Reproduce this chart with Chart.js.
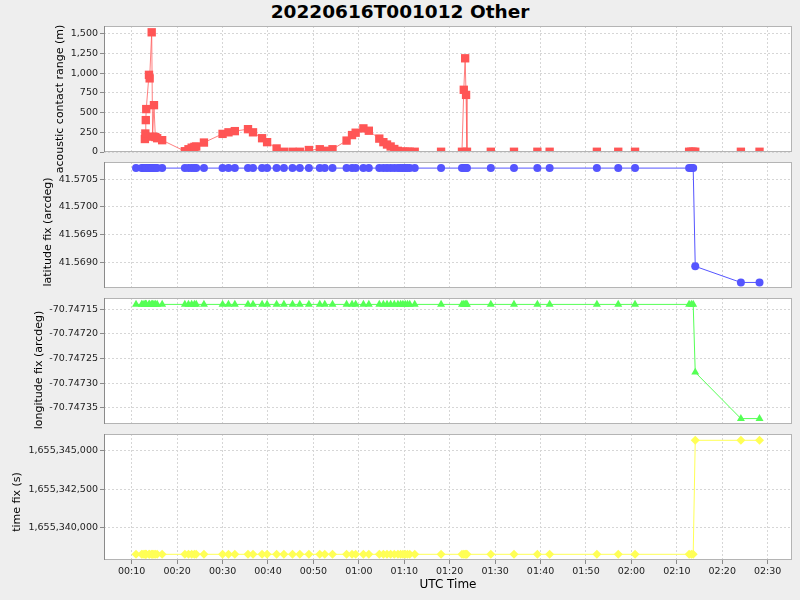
<!DOCTYPE html>
<html lang="en">
<head>
<meta charset="UTF-8">
<title>20220616T001012 Other</title>
<script src="https://cdn.jsdelivr.net/npm/chart.js"></script>
<style>
    body {
        margin: 0;
        background-color: #eeeeee;
        font-family: 'DejaVu Sans', sans-serif;
    }

    #wrap {
        position: relative;
        width: 800px;
        height: 600px;
        overflow: hidden;
    }

    #wrap canvas {
        position: absolute;
        left: 0;
        top: 0;
    }

    h1 {
        position: absolute;
        top: 0;
        left: 0;
        width: 800px;
        margin: 0;
        text-align: center;
        font-size: 18.5px;
        line-height: 24px;
        font-weight: bold;
        color: #000;
    }
</style>
</head>
<body>
<div id="wrap">
    <h1>20220616T001012 Other</h1>
    <canvas id="range" width="800" height="600"></canvas>
    <canvas id="lat" width="800" height="600"></canvas>
    <canvas id="lon" width="800" height="600"></canvas>
    <canvas id="fix" width="800" height="600"></canvas>
</div>

<script>
// sample times (UTC, hh:mm:ss)
const utcTimes = [
    '00:10:57', '00:12:12', '00:12:30', '00:12:54', '00:13:00', '00:13:06', '00:13:12', '00:13:48', '00:13:57', '00:14:24',
    '00:14:36', '00:14:54', '00:15:12', '00:15:36', '00:16:42',
    '00:21:42', '00:22:30', '00:23:12', '00:23:48', '00:24:12', '00:25:54',
    '00:30:00', '00:31:18', '00:32:42', '00:35:36', '00:36:42', '00:38:42', '00:39:48', '00:41:54', '00:43:30', '00:45:24',
    '00:47:00', '00:49:00', '00:51:24', '00:52:30', '00:54:12', '00:57:18', '00:58:30', '00:59:18', '01:01:00', '01:02:12',
    '01:04:30', '01:05:24', '01:06:12', '01:07:00', '01:07:48', '01:08:36', '01:09:12', '01:09:42', '01:10:12', '01:10:42',
    '01:11:12', '01:12:18',
    '01:18:06', '01:22:42', '01:23:06', '01:23:24', '01:23:36', '01:23:48', '01:29:03', '01:34:09', '01:39:18', '01:42:00',
    '01:52:24', '01:57:06', '02:00:48', '02:12:42', '02:13:12', '02:13:36', '02:14:03', '02:24:06', '02:28:12'
];

// acoustic contact range (m)
const rangeM = [
    null, null, null, 165, 235, 405, 545, 980, 935, 1520,
    195, 595, 190, 175, 150,
    10, 35, 55, 65, 70, 120,
    230, 250, 265, 290, 250, 175, 125, 45, 3, 3,
    3, 25, 35, 15, 35, 145, 215, 245, 300, 270,
    170, 125, 95, 70, 38, 15, 3, 3, 3, 3,
    3, 3,
    3, 3, 790, 1190, 725, 3, 3, 3, 3, 3,
    3, 3, 3, 3, 3, 3, 3, 3, 3
];

// latitude fix (arcdeg)
const latFix = [
    41.5707, 41.5707, 41.5707, 41.5707, 41.5707, 41.5707, 41.5707, 41.5707, 41.5707, 41.5707,
    41.5707, 41.5707, 41.5707, 41.5707, 41.5707,
    41.5707, 41.5707, 41.5707, 41.5707, 41.5707, 41.5707,
    41.5707, 41.5707, 41.5707, 41.5707, 41.5707, 41.5707, 41.5707, 41.5707, 41.5707, 41.5707,
    41.5707, 41.5707, 41.5707, 41.5707, 41.5707, 41.5707, 41.5707, 41.5707, 41.5707, 41.5707,
    41.5707, 41.5707, 41.5707, 41.5707, 41.5707, 41.5707, 41.5707, 41.5707, 41.5707, 41.5707,
    41.5707, 41.5707,
    41.5707, 41.5707, 41.5707, 41.5707, 41.5707, 41.5707, 41.5707, 41.5707, 41.5707, 41.5707,
    41.5707, 41.5707, 41.5707, 41.5707, 41.5707, 41.5707, 41.56893, 41.56864, 41.56864
];

// longitude fix (arcdeg)
const lonFix = [
    -70.74714, -70.74714, -70.74714, -70.74714, -70.74714, -70.74714, -70.74714, -70.74714, -70.74714, -70.74714,
    -70.74714, -70.74714, -70.74714, -70.74714, -70.74714,
    -70.74714, -70.74714, -70.74714, -70.74714, -70.74714, -70.74714,
    -70.74714, -70.74714, -70.74714, -70.74714, -70.74714, -70.74714, -70.74714, -70.74714, -70.74714, -70.74714,
    -70.74714, -70.74714, -70.74714, -70.74714, -70.74714, -70.74714, -70.74714, -70.74714, -70.74714, -70.74714,
    -70.74714, -70.74714, -70.74714, -70.74714, -70.74714, -70.74714, -70.74714, -70.74714, -70.74714, -70.74714,
    -70.74714, -70.74714,
    -70.74714, -70.74714, -70.74714, -70.74714, -70.74714, -70.74714, -70.74714, -70.74714, -70.74714, -70.74714,
    -70.74714, -70.74714, -70.74714, -70.74714, -70.74714, -70.74714, -70.747278, -70.747372, -70.747372
];

// time fix (s, unix)
const timeFix = [
    1655338273, 1655338273, 1655338273, 1655338273, 1655338273, 1655338273, 1655338273, 1655338273, 1655338273, 1655338273,
    1655338273, 1655338273, 1655338273, 1655338273, 1655338273,
    1655338273, 1655338273, 1655338273, 1655338273, 1655338273, 1655338273,
    1655338273, 1655338273, 1655338273, 1655338273, 1655338273, 1655338273, 1655338273, 1655338273, 1655338273, 1655338273,
    1655338273, 1655338273, 1655338273, 1655338273, 1655338273, 1655338273, 1655338273, 1655338273, 1655338273, 1655338273,
    1655338273, 1655338273, 1655338273, 1655338273, 1655338273, 1655338273, 1655338273, 1655338273, 1655338273, 1655338273,
    1655338273, 1655338273,
    1655338273, 1655338273, 1655338273, 1655338273, 1655338273, 1655338273, 1655338273, 1655338273, 1655338273, 1655338273,
    1655338273, 1655338273, 1655338273, 1655338273, 1655338273, 1655338273, 1655345675, 1655345675, 1655345675
];

// axis ticks
const xTicks = [10, 20, 30, 40, 50, 60, 70, 80, 90, 100, 110, 120, 130, 140, 150];   // minutes after 00:00
const rangeTicks = [0, 250, 500, 750, 1000, 1250, 1500];
const latTicks = [41.5690, 41.5695, 41.5700, 41.5705];
const lonTicks = [-70.74735, -70.74730, -70.74725, -70.74720, -70.74715];
const fixTicks = [1655340000, 1655342500, 1655345000];

const X_MIN = 3.9, X_MAX = 155.35;
const FONT = "'DejaVu Sans', sans-serif";

function toMinutes(s) {
    const p = s.split(':').map(Number);
    return p[0] * 60 + p[1] + p[2] / 60;
}

function hhmm(v) {
    const h = Math.floor(v / 60), m = Math.round(v % 60);
    return String(h).padStart(2, '0') + ':' + String(m).padStart(2, '0');
}

const xs = utcTimes.map(toMinutes);

// white plot background, grey frame and the y-axis label (drawn unsqueezed)
const framePlugin = {
    id: 'frame',
    beforeDraw(chart) {
        const a = chart.chartArea, ctx = chart.ctx;
        ctx.save();
        ctx.fillStyle = '#ffffff';
        ctx.fillRect(a.left, a.top, a.right - a.left, a.bottom - a.top);
        ctx.restore();
    },
    afterDraw(chart, args, opts) {
        const a = chart.chartArea, ctx = chart.ctx;
        ctx.save();
        ctx.lineWidth = 1;
        ctx.strokeStyle = '#b4b4b4';
        ctx.strokeRect(a.left + 0.5, a.top + 0.5, a.right - a.left - 1, a.bottom - a.top - 1);
        ctx.strokeStyle = '#8a8a8a';
        ctx.beginPath();
        ctx.moveTo(a.left + 0.5, a.top);
        ctx.lineTo(a.left + 0.5, a.bottom);
        ctx.stroke();
        ctx.translate(opts.titleX, opts.titleY);
        ctx.rotate(-Math.PI / 2);
        ctx.font = '11px ' + FONT;
        ctx.fillStyle = '#000';
        ctx.textAlign = 'center';
        ctx.textBaseline = 'middle';
        ctx.fillText(opts.text, 0, 0);
        ctx.restore();
    }
};

function panel(id, p) {
    const showX = !!p.showX;
    return new Chart(document.getElementById(id), {
        type: 'line',
        data: {
            labels: xs,
            datasets: [{
                data: xs.map((x, i) => ({ x: x, y: p.values[i] })),
                borderColor: p.line,
                backgroundColor: p.color,
                pointBackgroundColor: p.color,
                pointBorderWidth: 0,
                pointStyle: p.style,
                pointRadius: p.radius,
                borderWidth: 1,
                tension: 0,
                clip: 0
            }]
        },
        options: {
            responsive: false,
            animation: false,
            events: [],
            layout: { padding: { left: 0, right: 8, top: p.top, bottom: showX ? 0 : 600 - p.bottom } },
            plugins: {
                legend: { display: false },
                tooltip: { enabled: false },
                frame: { text: p.title, titleX: p.titleX, titleY: p.titleY }
            },
            scales: {
                x: {
                    type: 'linear',
                    min: X_MIN,
                    max: X_MAX,
                    bounds: 'data',
                    afterBuildTicks: s => { s.ticks = xTicks.map(v => ({ value: v })); },
                    afterFit: s => { s.height = showX ? 40 : 0; },
                    grid: { color: '#d6d6d6', drawTicks: showX, tickLength: 4, tickColor: '#8a8a8a', tickBorderDash: [] },
                    border: { display: false, dash: [2, 2] },
                    ticks: {
                        display: showX,
                        maxRotation: 0,
                        autoSkip: false,
                        padding: 2,
                        color: '#222',
                        font: { family: FONT, size: 9.5 },
                        callback: v => hhmm(v)
                    },
                    title: {
                        display: showX,
                        text: 'UTC Time',
                        color: '#000',
                        font: { family: FONT, size: 12 },
                        padding: { top: 0, bottom: 8 }
                    }
                },
                y: {
                    type: 'linear',
                    min: p.min,
                    max: p.max,
                    bounds: 'data',
                    afterBuildTicks: s => { s.ticks = p.ticks.map(v => ({ value: v })); },
                    afterFit: s => { s.width = 104; },
                    grid: { color: '#d6d6d6', tickLength: 4, tickColor: '#8a8a8a', tickBorderDash: [] },
                    border: { display: false, dash: [2, 2] },
                    ticks: {
                        autoSkip: false,
                        padding: 2,
                        color: '#222',
                        font: { family: FONT, size: 9.5 },
                        callback: p.fmt
                    }
                }
            }
        },
        plugins: [framePlugin]
    });
}

panel('range', {
    values: rangeM, title: 'acoustic contact range (m)', titleX: 60, titleY: 99,
    top: 26, bottom: 152, min: 0, max: 1600, ticks: rangeTicks,
    fmt: v => v.toLocaleString('en-US'),
    color: '#ff5555', line: 'rgba(255,85,85,0.75)', style: 'rect', radius: 5.9
});

panel('lat', {
    values: latFix, title: 'latitude fix (arcdeg)', titleX: 48, titleY: 232,
    top: 162, bottom: 288, min: 41.56854, max: 41.57081, ticks: latTicks,
    fmt: v => v.toFixed(4),
    color: '#5555ff', line: '#5555ff', style: 'circle', radius: 4
});

panel('lon', {
    values: lonFix, title: 'longitude fix (arcdeg)', titleX: 39, titleY: 370,
    top: 298, bottom: 424, min: -70.747383, max: -70.747127, ticks: lonTicks,
    fmt: v => v.toFixed(5),
    color: '#55ff55', line: '#55ff55', style: 'triangle', radius: 4.6
});

panel('fix', {
    values: timeFix, title: 'time fix (s)', titleX: 17, titleY: 502,
    top: 434, bottom: 560, min: 1655337903, max: 1655346084, ticks: fixTicks,
    fmt: v => v.toLocaleString('en-US'),
    color: '#ffff55', line: '#ffff55', style: 'rectRot', radius: 4.5,
    showX: true
});
</script>
</body>
</html>
